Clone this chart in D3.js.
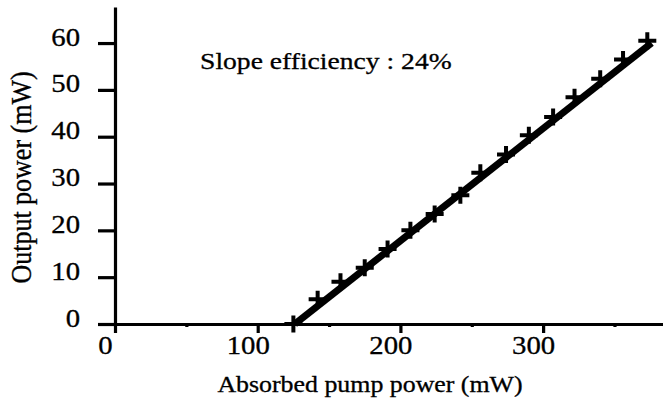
<!DOCTYPE html>
<html>
<head>
<meta charset="utf-8">
<script src="https://cdn.jsdelivr.net/npm/d3@7"></script>
<style>
  body { margin: 0; background: #fff; }
</style>
</head>
<body>
<script>
// laser output vs absorbed pump power

var pumpPower = [125, 142, 158, 175, 191, 207, 224, 242, 256, 274, 290, 307, 322, 340, 356, 373];
var outputPower = [0, 5.3, 9, 12, 16, 20, 23.5, 27.5, 32.3, 36.2, 40.3, 44.2, 48.4, 52.4, 56.5, 60.5];
var fitPump = [126, 376];     // ends of the fitted line
var fitOutput = [0, 60];
var xTicks = [0, 100, 200, 300];
var xMinorTicks = [50, 150, 250, 350];
var yTicks = [0, 10, 20, 30, 40, 50, 60];
var slopeLabel = "Slope efficiency : 24%";

var WIDTH = 663, HEIGHT = 401;
var FONT = "'Liberation Serif', 'Times New Roman', Times, serif";
var STRETCH = 1.15;   // the scan is a bit wider than it is tall

var svg = d3.select("body").append("svg")
  .attr("width", WIDTH)
  .attr("height", HEIGHT);

var x = d3.scaleLinear().domain([0, 384]).range([115, 663]);
var y = d3.scaleLinear().domain([0, 67.7]).range([324, 7]);

// y axis
var gy = svg.append("g")
  .attr("transform", "translate(" + x(0) + ",0)")
  .call(d3.axisLeft(y).tickValues(yTicks).tickSize(17).tickSizeOuter(0));
gy.selectAll("text")
  .attr("font-size", 25)
  .attr("x", -35 / STRETCH)
  .attr("y", -6)
  .attr("transform", "scale(" + STRETCH + ",1)");

// x axis, major and minor ticks
var gx = svg.append("g")
  .attr("transform", "translate(0," + y(0) + ")")
  .call(d3.axisBottom(x).tickValues(xTicks).tickSize(9).tickSizeOuter(0));
gx.selectAll("text")
  .attr("font-size", 25)
  .attr("y", 12)
  .attr("x", -10 / STRETCH)
  .attr("transform", "scale(" + STRETCH + ",1)");

var gxm = svg.append("g")
  .attr("transform", "translate(0," + y(0) + ")")
  .call(d3.axisBottom(x).tickValues(xMinorTicks).tickSize(3).tickFormat(""));
gxm.select(".domain").remove();

svg.selectAll(".domain, .tick line")
  .attr("stroke", "#000")
  .attr("stroke-width", 3.2);

// fitted line
var fit = fitPump.map(function(p, i) { return [p, fitOutput[i]]; });
svg.append("path")
  .datum(fit)
  .attr("fill", "none")
  .attr("stroke", "#000")
  .attr("stroke-width", 7)
  .attr("d", d3.line()
    .x(function(d) { return x(d[0]); })
    .y(function(d) { return y(d[1]); }));

// measured points as plus signs
var pts = pumpPower.map(function(p, i) { return { p: p, o: outputPower[i] }; });
svg.append("g").selectAll("path")
  .data(pts)
  .enter().append("path")
  .attr("transform", function(d) { return "translate(" + x(d.p) + "," + y(d.o) + ")"; })
  .attr("d", "M-9,0H9M0,-8.5V8.5")
  .attr("stroke", "#000")
  .attr("stroke-width", 4);

// texts
svg.append("text")
  .attr("transform", "translate(" + x(59.6) + "," + y(54.4) + ") scale(" + STRETCH + ",1)")
  .attr("font-size", 24)
  .text(slopeLabel);

svg.append("text")
  .attr("transform", "translate(370,392) scale(" + STRETCH + ",1)")
  .attr("text-anchor", "middle")
  .attr("font-size", 22.5)
  .text("Absorbed pump power (mW)");

svg.append("text")
  .attr("transform", "translate(31,177.5) scale(" + STRETCH + ",1) rotate(-90)")
  .attr("text-anchor", "middle")
  .attr("font-size", 26)
  .text("Output power (mW)");

// scanned print looks a little heavier than plain type
svg.selectAll("text")
  .style("font-family", FONT)
  .attr("fill", "#000")
  .attr("stroke", "#000")
  .attr("stroke-width", 0.3);
</script>
</body>
</html>
